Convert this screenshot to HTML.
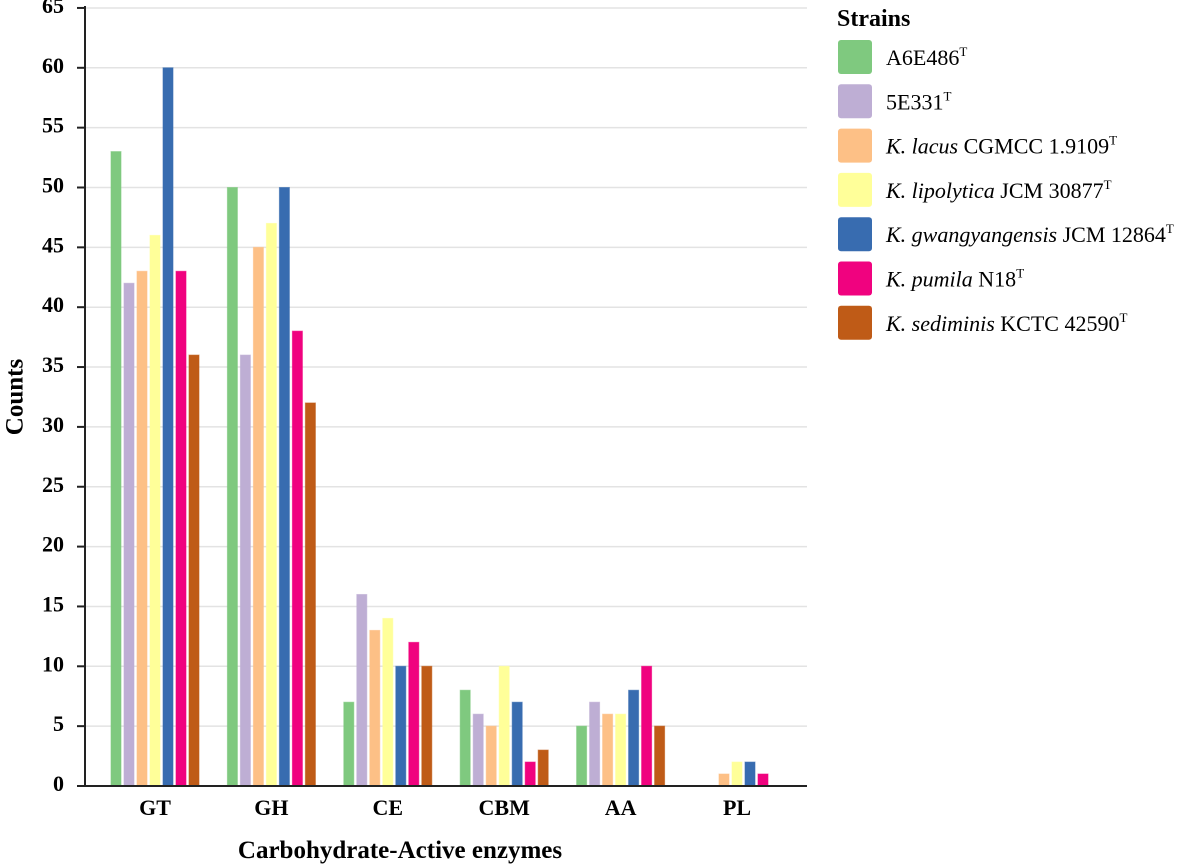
<!DOCTYPE html>
<html><head><meta charset="utf-8"><style>
body{margin:0;background:#fff;}
svg{display:block;font-family:"Liberation Serif",serif;}
</style></head><body>
<svg id="chart" width="1181" height="864" viewBox="0 0 1181 864">
<g id="grid"></g><g id="bars"></g><g id="axes"></g><g id="legend"></g>
<text x="17" y="397" transform="rotate(-90 17 397)" text-anchor="middle" dominant-baseline="middle" font-size="25" font-weight="bold">Counts</text>
<text x="400" y="858" text-anchor="middle" font-size="25" font-weight="bold">Carbohydrate-Active enzymes</text>
</svg>
<script>
const categories=["GT","GH","CE","CBM","AA","PL"];
const seriesNames=["A6E486","5E331","K. lacus CGMCC 1.9109","K. lipolytica JCM 30877","K. gwangyangensis JCM 12864","K. pumila N18","K. sediminis KCTC 42590"];
const sA6E486=[53,50,7,8,5,0];
const s5E331=[42,36,16,6,7,0];
const sLacus=[43,45,13,5,6,1];
const sLipolytica=[46,47,14,10,6,2];
const sGwang=[60,50,10,7,8,2];
const sPumila=[43,38,12,2,10,1];
const sSediminis=[36,32,10,3,5,0];
const yTicks=[0,5,10,15,20,25,30,35,40,45,50,55,60,65];
const series=[sA6E486,s5E331,sLacus,sLipolytica,sGwang,sPumila,sSediminis];
const colors=["#7fc97f","#beaed4","#fdc086","#ffff99","#386cb0","#f0027f","#bf5b17"];
const legendItal=["","","K. lacus","K. lipolytica","K. gwangyangensis","K. pumila","K. sediminis"];
const NS="http://www.w3.org/2000/svg";
const x0=85,x1=807,yBase=786,pxPer=11.97;
const y=v=>yBase-v*pxPer;
const catCenter=i=>155+i*116.4;
const barW=10,stride=13;
function mk(tag,attrs,parent){const e=document.createElementNS(NS,tag);for(const k in attrs)e.setAttribute(k,attrs[k]);parent.appendChild(e);return e;}
const grid=document.getElementById('grid'),bars=document.getElementById('bars'),axes=document.getElementById('axes'),legend=document.getElementById('legend');
yTicks.forEach(t=>{
  if(t>0){const l=mk('line',{x1:x0,x2:x1,y1:y(t),y2:y(t),stroke:'#e3e3e3','stroke-width':1.5},grid);
  
  }
  const tx=mk('text',{x:x0-21,y:y(t),'text-anchor':'end','dominant-baseline':'middle','font-size':22,'font-weight':'bold'},axes);
  tx.textContent=t;
  
  
});
categories.forEach((c,i)=>{
  series.forEach((s,j)=>{
    const v=s[i]; if(v<=0) return;
    const bx=catCenter(i)-(7*stride-3)/2+j*stride;
    const r=mk('rect',{x:bx,y:y(v),width:barW,height:yBase-y(v),fill:colors[j],stroke:colors[j],'stroke-opacity':0.6},bars);
    
    
  });
  const tx=mk('text',{x:catCenter(i),y:815,'text-anchor':'middle','font-size':22,'font-weight':'bold'},axes);
  tx.textContent=c;
  
  
});
const ya=mk('line',{x1:x0,x2:x0,y1:y(65)-2,y2:yBase+1,stroke:'#222','stroke-width':2},axes);


const xa=mk('line',{x1:x0-8,x2:x1,y1:yBase,y2:yBase,stroke:'#222','stroke-width':2},axes);


yTicks.forEach(t=>{mk('line',{x1:x0-8,x2:x0,y1:y(t),y2:y(t),stroke:'#222','stroke-width':2},axes);});
const lt=mk('text',{x:837,y:26,'font-size':24,'font-weight':'bold'},legend);
lt.textContent='Strains';


seriesNames.forEach((n,j)=>{
  const yy=40+j*44.3;
  const g=mk('g',{},legend);
  
  
  mk('rect',{x:838,y:yy,width:34,height:34,rx:3,fill:colors[j]},g);
  const t=mk('text',{x:886,y:yy+25,'font-size':22},g);
  const it=legendItal[j];
  if(it){const a=document.createElementNS(NS,'tspan');a.setAttribute('font-style','italic');a.textContent=it;t.appendChild(a);
    const b=document.createElementNS(NS,'tspan');b.textContent=n.slice(it.length);t.appendChild(b);}
  else{const b=document.createElementNS(NS,'tspan');b.textContent=n;t.appendChild(b);}
  const sup=document.createElementNS(NS,'tspan');sup.setAttribute('font-size','13');sup.setAttribute('dy','-9');sup.textContent='T';t.appendChild(sup);
});
</script>
</body></html>
